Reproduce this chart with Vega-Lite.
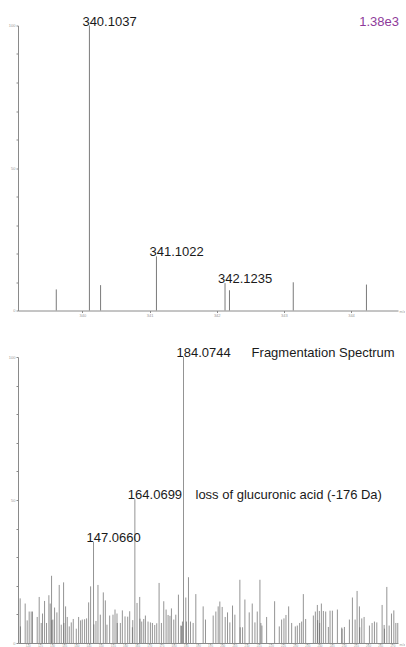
{
  "$schema": "https://vega.github.io/schema/vega-lite/v6.json",
  "padding": {"left": 0, "top": 15.5, "right": 0, "bottom": 0},
  "spacing": 29.5,
  "background": "white",
  "config": {
    "view": {"stroke": null},
    "font": "Liberation Sans",
    "axis": {
      "grid": false,
      "domainColor": "#8a8a8a",
      "tickColor": "#8a8a8a",
      "tickSize": 2,
      "labelFontSize": 4,
      "labelColor": "#9a9a9a",
      "labelPadding": 1,
      "titleFontSize": 3.5,
      "titleFontWeight": "normal",
      "titleColor": "#9a9a9a"
    }
  },
  "datasets": {
    "precursor": [
      {"mz": 339.61, "intensity": 7.4},
      {"mz": 340.1037, "intensity": 100, "label": "340.1037"},
      {"mz": 340.27, "intensity": 8.9},
      {"mz": 341.1022, "intensity": 19.0, "label": "341.1022"},
      {"mz": 342.1235, "intensity": 9.6, "label": "342.1235"},
      {"mz": 342.19, "intensity": 7.1},
      {"mz": 343.14, "intensity": 9.9},
      {"mz": 344.23, "intensity": 9.1}
    ],
    "fragments": [
      {"mz": 116.89, "intensity": 15.6}, {"mz": 117.01, "intensity": 5.8},
      {"mz": 118.95, "intensity": 13.8}, {"mz": 119.78, "intensity": 7.9},
      {"mz": 120.60, "intensity": 11.0}, {"mz": 121.43, "intensity": 11.0},
      {"mz": 121.97, "intensity": 11.0}, {"mz": 123.90, "intensity": 9.1},
      {"mz": 124.72, "intensity": 16.1}, {"mz": 125.55, "intensity": 7.0},
      {"mz": 126.09, "intensity": 10.3}, {"mz": 126.92, "intensity": 14.7},
      {"mz": 127.74, "intensity": 7.0}, {"mz": 128.70, "intensity": 16.7},
      {"mz": 129.25, "intensity": 13.8}, {"mz": 129.80, "intensity": 23.5},
      {"mz": 129.92, "intensity": 8.0}, {"mz": 130.35, "intensity": 8.2},
      {"mz": 131.04, "intensity": 12.4}, {"mz": 132.00, "intensity": 10.7},
      {"mz": 132.96, "intensity": 20.3}, {"mz": 133.79, "intensity": 6.4},
      {"mz": 134.75, "intensity": 21.2}, {"mz": 134.87, "intensity": 7.0},
      {"mz": 135.57, "intensity": 12.8}, {"mz": 136.26, "intensity": 9.1},
      {"mz": 137.08, "intensity": 5.8}, {"mz": 137.91, "intensity": 7.2},
      {"mz": 138.73, "intensity": 8.4}, {"mz": 139.97, "intensity": 5.0},
      {"mz": 140.93, "intensity": 9.1}, {"mz": 141.75, "intensity": 7.9},
      {"mz": 142.44, "intensity": 8.2}, {"mz": 143.40, "intensity": 8.3},
      {"mz": 144.22, "intensity": 8.6}, {"mz": 145.05, "intensity": 14.2},
      {"mz": 145.87, "intensity": 19.8},
      {"mz": 147.0660, "intensity": 35.3, "label": "147.0660"},
      {"mz": 147.20, "intensity": 6.5},
      {"mz": 148.07, "intensity": 7.7}, {"mz": 148.89, "intensity": 20.3},
      {"mz": 149.86, "intensity": 9.9}, {"mz": 151.09, "intensity": 17.7},
      {"mz": 151.92, "intensity": 14.9}, {"mz": 152.60, "intensity": 6.4},
      {"mz": 153.70, "intensity": 9.6}, {"mz": 155.07, "intensity": 9.9},
      {"mz": 155.90, "intensity": 11.7}, {"mz": 156.72, "intensity": 10.3},
      {"mz": 156.84, "intensity": 7.0}, {"mz": 158.10, "intensity": 7.0},
      {"mz": 158.92, "intensity": 11.4}, {"mz": 160.02, "intensity": 9.3},
      {"mz": 161.12, "intensity": 9.2}, {"mz": 161.94, "intensity": 11.1},
      {"mz": 163.04, "intensity": 5.5}, {"mz": 163.20, "intensity": 8.0},
      {"mz": 164.0699, "intensity": 50.3, "label": "164.0699"},
      {"mz": 164.96, "intensity": 14.0}, {"mz": 166.06, "intensity": 16.1},
      {"mz": 166.18, "intensity": 8.5}, {"mz": 166.89, "intensity": 7.5},
      {"mz": 167.71, "intensity": 8.4}, {"mz": 168.40, "intensity": 9.6},
      {"mz": 169.49, "intensity": 7.5}, {"mz": 170.46, "intensity": 7.2},
      {"mz": 171.28, "intensity": 7.0}, {"mz": 172.24, "intensity": 6.3},
      {"mz": 173.07, "intensity": 6.9}, {"mz": 174.03, "intensity": 21.0},
      {"mz": 174.99, "intensity": 7.0}, {"mz": 175.95, "intensity": 14.6},
      {"mz": 176.91, "intensity": 11.7}, {"mz": 177.73, "intensity": 9.8},
      {"mz": 178.50, "intensity": 9.5}, {"mz": 179.11, "intensity": 12.1},
      {"mz": 180.07, "intensity": 8.2}, {"mz": 180.90, "intensity": 9.9},
      {"mz": 181.99, "intensity": 16.9}, {"mz": 182.96, "intensity": 6.1},
      {"mz": 183.30, "intensity": 6.0}, {"mz": 183.64, "intensity": 7.5},
      {"mz": 184.0744, "intensity": 100, "label": "184.0744"},
      {"mz": 185.02, "intensity": 15.9}, {"mz": 185.30, "intensity": 7.5},
      {"mz": 186.12, "intensity": 23.0}, {"mz": 186.94, "intensity": 7.5},
      {"mz": 188.04, "intensity": 7.0}, {"mz": 189.14, "intensity": 17.1},
      {"mz": 192.16, "intensity": 12.8}, {"mz": 193.12, "intensity": 8.2},
      {"mz": 196.28, "intensity": 9.6}, {"mz": 197.38, "intensity": 11.0},
      {"mz": 198.34, "intensity": 12.8}, {"mz": 199.02, "intensity": 14.5},
      {"mz": 199.98, "intensity": 12.6}, {"mz": 201.22, "intensity": 9.1},
      {"mz": 202.18, "intensity": 10.7}, {"mz": 203.14, "intensity": 7.2},
      {"mz": 204.24, "intensity": 13.1}, {"mz": 205.20, "intensity": 9.9},
      {"mz": 207.26, "intensity": 22.1}, {"mz": 207.40, "intensity": 5.5},
      {"mz": 208.37, "intensity": 5.5}, {"mz": 209.33, "intensity": 15.2},
      {"mz": 211.11, "intensity": 10.7}, {"mz": 212.35, "intensity": 13.8},
      {"mz": 213.45, "intensity": 7.2}, {"mz": 214.41, "intensity": 11.0},
      {"mz": 215.51, "intensity": 22.1}, {"mz": 215.90, "intensity": 7.0},
      {"mz": 216.33, "intensity": 6.1}, {"mz": 218.26, "intensity": 9.1},
      {"mz": 221.55, "intensity": 14.6}, {"mz": 223.47, "intensity": 5.8},
      {"mz": 224.43, "intensity": 8.2}, {"mz": 225.39, "intensity": 8.6},
      {"mz": 226.22, "intensity": 9.8}, {"mz": 227.32, "intensity": 12.8},
      {"mz": 228.56, "intensity": 7.0}, {"mz": 230.06, "intensity": 5.8},
      {"mz": 230.89, "intensity": 6.1}, {"mz": 231.85, "intensity": 7.0},
      {"mz": 232.67, "intensity": 7.5}, {"mz": 233.36, "intensity": 17.1},
      {"mz": 234.32, "intensity": 8.4}, {"mz": 237.48, "intensity": 9.6},
      {"mz": 238.30, "intensity": 11.0}, {"mz": 239.13, "intensity": 13.3},
      {"mz": 239.25, "intensity": 8.0}, {"mz": 239.95, "intensity": 11.2},
      {"mz": 240.07, "intensity": 7.0}, {"mz": 240.78, "intensity": 13.8},
      {"mz": 241.60, "intensity": 11.2}, {"mz": 242.56, "intensity": 11.0},
      {"mz": 243.66, "intensity": 5.6}, {"mz": 244.35, "intensity": 11.3},
      {"mz": 245.31, "intensity": 11.3}, {"mz": 247.37, "intensity": 11.7},
      {"mz": 249.16, "intensity": 5.4}, {"mz": 249.30, "intensity": 5.0},
      {"mz": 250.25, "intensity": 5.6}, {"mz": 252.31, "intensity": 8.2},
      {"mz": 253.55, "intensity": 15.9}, {"mz": 254.65, "intensity": 8.2},
      {"mz": 255.47, "intensity": 18.2}, {"mz": 256.43, "intensity": 12.8},
      {"mz": 256.55, "intensity": 5.5}, {"mz": 257.40, "intensity": 8.6},
      {"mz": 258.36, "intensity": 9.1}, {"mz": 260.55, "intensity": 6.1},
      {"mz": 261.65, "intensity": 7.0}, {"mz": 262.61, "intensity": 7.5},
      {"mz": 263.58, "intensity": 7.2}, {"mz": 265.77, "intensity": 13.3},
      {"mz": 266.60, "intensity": 6.3}, {"mz": 266.72, "intensity": 5.0},
      {"mz": 267.70, "intensity": 19.6}, {"mz": 268.66, "intensity": 6.1},
      {"mz": 269.62, "intensity": 10.3}, {"mz": 270.58, "intensity": 11.4},
      {"mz": 271.41, "intensity": 7.0}, {"mz": 272.20, "intensity": 7.0}
    ],
    "notes": [
      {"mz": 212.09, "intensity": 100, "note": "Fragmentation Spectrum"},
      {"mz": 189.01, "intensity": 50.3, "note": "loss of glucuronic acid (-176 Da)"}
    ]
  },
  "vconcat": [
    {
      "width": 380,
      "height": 285,
      "data": {"name": "precursor"},
      "encoding": {
        "x": {
          "field": "mz", "type": "quantitative",
          "scale": {"domain": [339.04, 344.7], "nice": false, "zero": false},
          "axis": {"values": [340, 341, 342, 343, 344], "title": "m/z", "titleX": 381, "titleY": 1, "titleAlign": "left", "titleBaseline": "middle", "titleAnchor": null}
        },
        "y": {
          "field": "intensity", "type": "quantitative",
          "scale": {"domain": [0, 100], "nice": false},
          "axis": {"values": [0, 10, 20, 30, 40, 50, 60, 70, 80, 90, 100], "labelExpr": "datum.value % 50 === 0 ? datum.label : ''", "title": null, "minExtent": 18, "maxExtent": 18}
        }
      },
      "layer": [
        {"mark": {"type": "rule", "color": "#7a7a7a", "strokeWidth": 1}, "encoding": {"y2": {"datum": 0}}},
        {"transform": [{"filter": "datum.label"}], "mark": {"type": "text", "align": "left", "baseline": "alphabetic", "dx": -7, "fontSize": 13, "color": "#1a1a1a"}, "encoding": {"text": {"field": "label"}}},
        {"data": {"values": [{"mz": 344.7, "intensity": 100, "note": "1.38e3"}]}, "mark": {"type": "text", "align": "right", "baseline": "alphabetic", "dx": 1, "fontSize": 13, "color": "#8e3a9a"}, "encoding": {"text": {"field": "note"}}}
      ]
    },
    {
      "width": 380,
      "height": 286,
      "data": {"name": "fragments"},
      "encoding": {
        "x": {
          "field": "mz", "type": "quantitative",
          "scale": {"domain": [116, 272.3], "nice": false, "zero": false},
          "axis": {"values": [120, 125, 130, 135, 140, 145, 150, 155, 160, 165, 170, 175, 180, 185, 190, 195, 200, 205, 210, 215, 220, 225, 230, 235, 240, 245, 250, 255, 260, 265, 270], "tickSize": 1, "labelPadding": 0, "labelFontSize": 3, "title": "m/z", "titleX": 381, "titleY": 1, "titleAlign": "left", "titleBaseline": "middle", "titleAnchor": null}
        },
        "y": {
          "field": "intensity", "type": "quantitative",
          "scale": {"domain": [0, 100], "nice": false},
          "axis": {"values": [0, 10, 20, 30, 40, 50, 60, 70, 80, 90, 100], "labelExpr": "datum.value % 50 === 0 ? datum.label : ''", "title": null, "minExtent": 18, "maxExtent": 18}
        }
      },
      "layer": [
        {"mark": {"type": "rule", "color": "#666666", "opacity": 0.7, "strokeWidth": 1}, "encoding": {"y2": {"datum": 0}}},
        {"transform": [{"filter": "datum.label"}], "mark": {"type": "text", "align": "left", "baseline": "alphabetic", "dx": -7, "fontSize": 13, "color": "#1a1a1a"}, "encoding": {"text": {"field": "label"}}},
        {"data": {"name": "notes"}, "mark": {"type": "text", "align": "left", "baseline": "alphabetic", "fontSize": 13, "color": "#1a1a1a"}, "encoding": {"text": {"field": "note"}}}
      ]
    }
  ]
}
